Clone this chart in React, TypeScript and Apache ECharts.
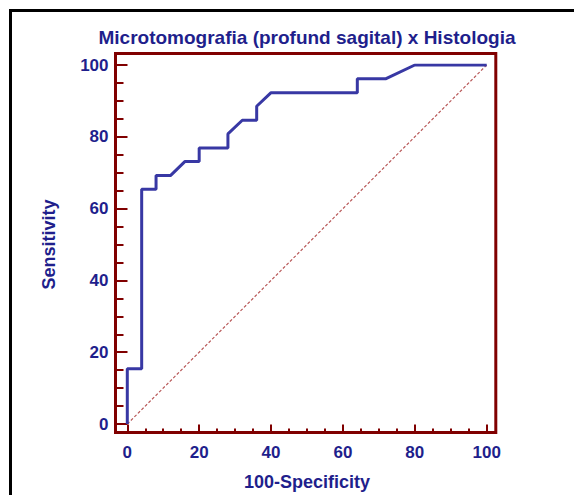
import React, { useEffect, useRef } from "react";
import * as echarts from "echarts";

const fpr = [0, 0, 4, 4, 8, 8, 12, 16, 20, 20, 28, 28, 32, 36, 36, 40, 64, 64, 72, 80, 100];
const sens = [0, 15.4, 15.4, 65.4, 65.4, 69.2, 69.2, 73.1, 73.1, 76.9, 76.9, 80.8, 84.6, 84.6, 88.5, 92.3, 92.3, 96.2, 96.2, 100, 100];
const refX = [0, 100];
const refY = [0, 100];
const titleText = "Microtomografia (profund sagital) x Histologia";
const xName = "100-Specificity";
const yName = "Sensitivity";

const TEXT = "#1f1f8c";
const FRAME = "#800000";
const FONT = "'Liberation Sans', Arial, sans-serif";

export default function App() {
  const ref = useRef<HTMLDivElement>(null);
  useEffect(() => {
    if (!ref.current) return;
    const chart = echarts.init(ref.current, undefined, { renderer: "svg" });
    const tickStyle = { color: FRAME, width: 2 };
    chart.setOption({
      animation: false,
      backgroundColor: "#ffffff",
      title: {
        text: titleText,
        left: 302,
        top: 23,
        textAlign: "center",
        textStyle: { color: TEXT, fontSize: 19, fontWeight: "bold", fontFamily: FONT },
      },
      grid: { left: 127.3, right: 87.3, top: 65, bottom: 71, containLabel: false, outerBoundsMode: "none" },
      xAxis: {
        type: "value",
        min: 0,
        max: 100,
        interval: 20,
        offset: 8.5,
        name: xName,
        nameLocation: "middle",
        nameGap: 40,
        nameTextStyle: { color: TEXT, fontSize: 18, fontWeight: "bold", fontFamily: FONT },
        axisLine: { show: true, onZero: false, lineStyle: { color: "rgba(0,0,0,0)", width: 0 } },
        axisTick: { show: true, inside: true, length: 8, lineStyle: tickStyle },
        minorTick: { show: true, splitNumber: 4, length: 4, lineStyle: tickStyle },
        splitLine: { show: false },
        minorSplitLine: { show: false },
        axisLabel: { margin: 11, color: TEXT, fontSize: 17, fontWeight: "bold", fontFamily: FONT },
      },
      yAxis: {
        type: "value",
        min: 0,
        max: 100,
        interval: 20,
        offset: 11.8,
        name: yName,
        nameLocation: "middle",
        nameGap: 58,
        nameTextStyle: { color: TEXT, fontSize: 18, fontWeight: "bold", fontFamily: FONT },
        axisLine: { show: true, onZero: false, lineStyle: { color: "rgba(0,0,0,0)", width: 0 } },
        axisTick: { show: true, inside: true, length: 12, lineStyle: tickStyle },
        minorTick: { show: true, splitNumber: 4, length: 8, lineStyle: tickStyle },
        splitLine: { show: false },
        minorSplitLine: { show: false },
        axisLabel: { margin: 7, color: TEXT, fontSize: 17, fontWeight: "bold", fontFamily: FONT },
      },
      graphic: [
        {
          type: "rect",
          shape: { x: 10.5, y: 10.5, width: 700, height: 700 },
          style: { fill: "none", stroke: "#000000", lineWidth: 3 },
          silent: true,
        },
        {
          type: "rect",
          shape: { x: 115.5, y: 53.5, width: 380.3, height: 379 },
          style: { fill: "none", stroke: FRAME, lineWidth: 3 },
          silent: true,
          z: 10,
        },
      ],
      series: [
        {
          type: "line",
          data: refX.map((x, i) => [x, refY[i]]),
          showSymbol: false,
          symbol: "none",
          lineStyle: { color: "#b85858", width: 1.2, type: [3, 2] },
          z: 2,
        },
        {
          type: "line",
          data: fpr.map((x, i) => [x, sens[i]]),
          showSymbol: false,
          symbol: "none",
          lineStyle: { color: "#3838a4", width: 3 },
          z: 3,
        },
      ],
    });
    return () => chart.dispose();
  }, []);
  return <div ref={ref} style={{ position: "absolute", left: 0, top: 0, width: 574, height: 495 }} />;
}
